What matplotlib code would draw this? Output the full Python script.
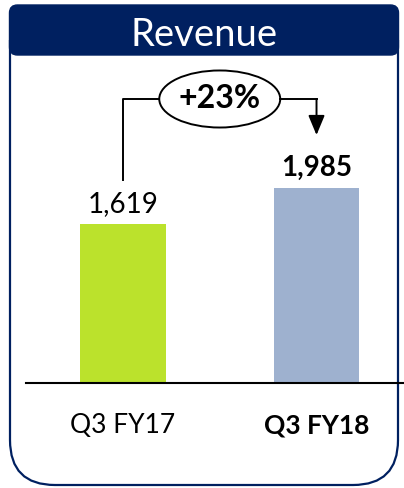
import matplotlib
matplotlib.use('Agg')
import matplotlib.pyplot as plt
from matplotlib.patches import FancyBboxPatch, Ellipse, Rectangle

plt.rcParams['font.family'] = ['Lato', 'DejaVu Sans']

title = 'Revenue'
periods = ['Q3 FY17', 'Q3 FY18']
revenue = [1619, 1985]
bar_colors = ['#BBE22C', '#9EB1CF']
navy = '#002060'

growth = round((revenue[1] / revenue[0] - 1) * 100)

W, H = 404, 488
fig = plt.figure(figsize=(W / 100, H / 100), dpi=100)

# frame + header drawn in pixel coords
bg = fig.add_axes([0, 0, 1, 1])
bg.set_xlim(0, W)
bg.set_ylim(H, 0)
bg.axis('off')
box = FancyBboxPatch((10, -60), 388, 545, boxstyle='round,pad=0,rounding_size=45',
                     facecolor='white', edgecolor=navy, linewidth=1.6)
bg.add_patch(box)
box.set_clip_path(Rectangle((0, 40), W, 460, transform=bg.transData))
header = FancyBboxPatch((9.5, 5), 389, 50, boxstyle='round,pad=0,rounding_size=8',
                        facecolor=navy, edgecolor=navy, linewidth=1)
bg.add_patch(header)
bg.text(204, 46, title, color='white', fontsize=27.5, ha='center', va='baseline')

# bar chart
ax = fig.add_axes([26 / W, (H - 382.5) / H, (W - 26) / W, (382.5 - 55) / H])
ax.patch.set_alpha(0)
x = [0, 1]
ax.bar(x, revenue, width=0.44, color=bar_colors)
ax.set_xlim(-0.501, 1.452)
ax.set_ylim(0, 3342)
for s in ['top', 'right', 'left']:
    ax.spines[s].set_visible(False)
ax.spines['bottom'].set_linewidth(1.5)
ax.spines['bottom'].set_color('black')
ax.set_yticks([])
ax.set_xticks(x)
ax.set_xticklabels(periods, fontsize=19)
ax.get_xticklabels()[1].set_fontweight('bold')
ax.tick_params(axis='x', length=0, pad=22)

for i, v in enumerate(revenue):
    ax.annotate(f'{v:,}', (x[i], v), xytext=(0, 8.5), textcoords='offset points',
                ha='center', va='baseline', fontsize=20,
                fontweight='bold' if i == 1 else 'normal')

# growth bracket
yb = 2893
ew, eh = 0.625, 582
ax.plot([x[0], x[0], 0.5 - ew / 2], [revenue[0] + 450, yb, yb], color='black', lw=1.4)
ax.plot([0.5 + ew / 2, x[1]], [yb, yb], color='black', lw=1.4)
ax.annotate('', xy=(x[1], revenue[1] + 540), xytext=(x[1], yb),
            arrowprops=dict(arrowstyle='-|>,head_length=0.6,head_width=0.25',
                            mutation_scale=20, color='black', lw=1.4,
                            shrinkA=0, shrinkB=0))
ax.add_patch(Ellipse((0.5, yb), ew, eh, facecolor='white', edgecolor='black', lw=1.4))
ax.text(0.5, yb, f'+{growth}%', ha='center', va='center', fontsize=23, fontweight='bold')

fig.savefig('out.png', dpi=100)
